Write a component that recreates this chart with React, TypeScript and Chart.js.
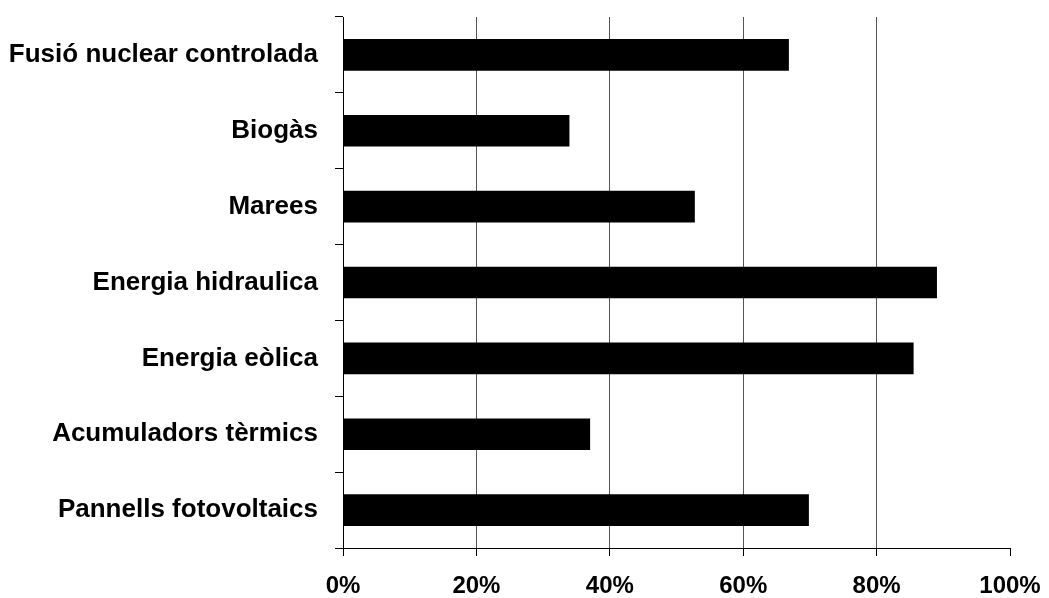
import React, { useEffect, useRef } from "react";
import { Chart, registerables } from "chart.js";

Chart.register(...registerables);

const categories = [
  "Fusió nuclear controlada",
  "Biogàs",
  "Marees",
  "Energia hidraulica",
  "Energia eòlica",
  "Acumuladors tèrmics",
  "Pannells fotovoltaics",
];
const values = [66.8, 33.9, 52.7, 89.0, 85.5, 37.0, 69.8];
const xTicks = [0, 20, 40, 60, 80, 100];

export default function App() {
  const ref = useRef<HTMLCanvasElement | null>(null);

  useEffect(() => {
    if (!ref.current) return;
    const chart = new Chart(ref.current, {
      type: "bar",
      data: {
        labels: categories,
        datasets: [
          {
            data: values,
            backgroundColor: "#000000",
            borderWidth: 0,
            barThickness: 31,
          },
        ],
      },
      options: {
        indexAxis: "y",
        responsive: false,
        animation: false,
        layout: { padding: { left: 0, top: 17, right: 39, bottom: 0 } },
        plugins: { legend: { display: false }, tooltip: { enabled: false } },
        scales: {
          x: {
            min: 0,
            max: 100,
            afterBuildTicks: (scale: any) => {
              scale.ticks = xTicks.map((v) => ({ value: v }));
            },
            afterFit: (scale: any) => {
              scale.height = 50;
              scale.paddingLeft = 0;
              scale.paddingRight = 0;
            },
            ticks: {
              callback: (v: any) => v + "%",
              color: "#000",
              font: { family: "'Liberation Sans', Arial, sans-serif", size: 24, weight: "bold" },
              padding: 16,
              maxRotation: 0,
              autoSkip: false,
            },
            grid: {
              color: (ctx: any) =>
                ctx.tick && (ctx.tick.value === 100 || ctx.tick.value === 0) ? "rgba(0,0,0,0)" : "#555",
              tickColor: "#000",
              tickLength: 8,
              lineWidth: 1,
            },
            border: { color: "#000", width: 1 },
          },
          y: {
            offset: true,
            afterFit: (scale: any) => {
              scale.width = 343;
              scale.paddingTop = 0;
              scale.paddingBottom = 0;
            },
            ticks: {
              color: "#000",
              font: { family: "'Liberation Sans', Arial, sans-serif", size: 26, weight: "bold" },
              padding: 17,
              autoSkip: false,
            },
            grid: {
              offset: true,
              drawOnChartArea: false,
              tickColor: "#000",
              tickLength: 8,
            },
            border: { color: "#000", width: 1 },
          },
        },
      },
    });
    return () => chart.destroy();
  }, []);

  return (
    <div style={{ position: "fixed", left: 0, top: 0, width: 1049, height: 598, background: "#fff" }}>
      <canvas ref={ref} width={1049} height={598} />
    </div>
  );
}
